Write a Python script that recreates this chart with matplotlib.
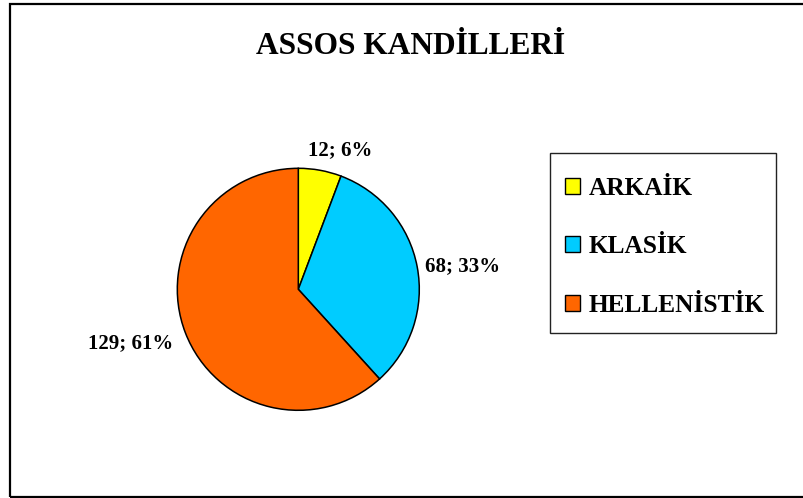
import matplotlib.pyplot as plt
from matplotlib.patches import Rectangle, Patch

# lamp counts by period
periods = ["ARKAİK", "KLASİK", "HELLENİSTİK"]
counts = [12, 68, 129]
percents = [6, 33, 61]
colors = ["#FFFF00", "#00CCFF", "#FF6600"]

W, H = 804, 498
fig = plt.figure(figsize=(W / 100, H / 100), dpi=100)
plt.rcParams["font.family"] = ["Liberation Serif", "DejaVu Serif"]

# outer frame
fig.patches.append(Rectangle((10 / W, 1 - 497 / H), 1.0, (497 - 4.2) / H,
                             transform=fig.transFigure, fill=False,
                             edgecolor="black", linewidth=1.6))

fig.text(411 / W, 1 - 46.5 / H, "ASSOS KANDİLLERİ", ha="center", va="center",
         fontsize=22.6, fontweight="bold")

cx, cy, r = 298.3, 289.3, 121
ax = fig.add_axes([(cx - r) / W, (H - cy - r) / H, 2 * r / W, 2 * r / H])
wedges, _ = ax.pie(counts, colors=colors, startangle=90, counterclock=False,
                   wedgeprops=dict(edgecolor="black", linewidth=1.1))
ax.set_xlim(-1, 1)
ax.set_ylim(-1, 1)
ax.set_aspect("equal")
ax.axis("off")

label_pos = [(0.345, 1.151), (1.361, 0.193), (-1.386, -0.444)]
for (x, y), n, p in zip(label_pos, counts, percents):
    ax.text(x, y, f"{n}; {p}%", ha="center", va="center", fontsize=15,
            fontweight="bold", clip_on=False)

# legend box drawn separately so its padding can be set freely
fig.patches.append(Rectangle((550 / W, 1 - 332.7 / H), 225.7 / W, 180 / H,
                             transform=fig.transFigure, fill=False,
                             edgecolor="#222222", linewidth=1.0))
handles = [Patch(facecolor=c, edgecolor="black", linewidth=1) for c in colors]
leg = fig.legend(handles, periods, loc="upper left",
                 bbox_to_anchor=(565 / W, 1 - 177 / H),
                 prop=dict(size=18.3, weight="bold"), frameon=False,
                 handlelength=0.58, handleheight=0.58, handletextpad=0.35,
                 labelspacing=1.39, borderpad=0, borderaxespad=0)

fig.savefig("out.png", dpi=100)
